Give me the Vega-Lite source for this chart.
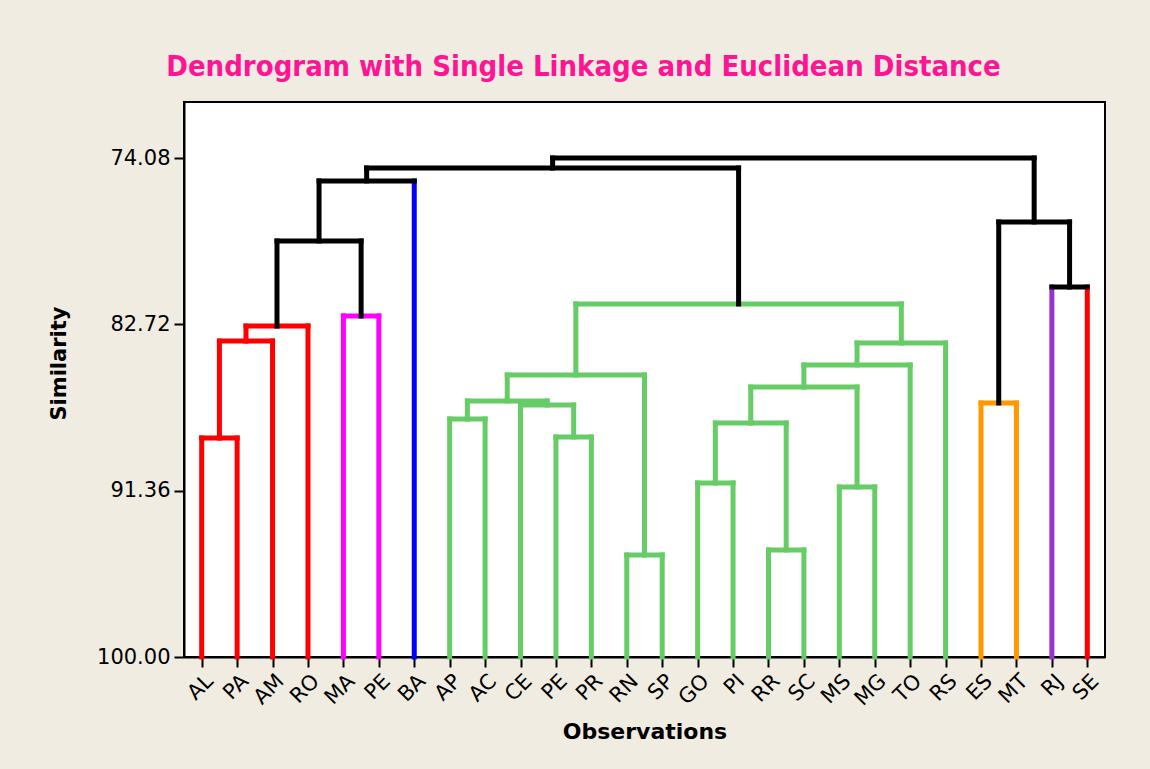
{
  "$schema": "https://vega.github.io/schema/vega-lite/v6.json",
  "width": 921,
  "height": 555,
  "autosize": {"type": "none"},
  "padding": {"left": 184, "top": 102, "right": 45, "bottom": 112},
  "background": "#F0ECE2",
  "view": {"fill": "white", "stroke": "black", "strokeWidth": 2},
  "title": {
    "text": "Dendrogram with Single Linkage and Euclidean Distance",
    "color": "#FF1493",
    "font": "DejaVu Sans Condensed",
    "fontWeight": "bold",
    "fontSize": 29,
    "anchor": "middle",
    "dx": -61,
    "offset": 20
  },
  "data": {
    "values": [
      {"x": 1, "x2": 1, "y": 100, "y2": 88.63, "c": "red"},
      {"x": 2, "x2": 2, "y": 100, "y2": 88.63, "c": "red"},
      {"x": 1, "x2": 2, "y": 88.63, "y2": 88.63, "c": "red"},
      {"x": 1.5, "x2": 1.5, "y": 88.63, "y2": 83.59, "c": "red"},
      {"x": 3, "x2": 3, "y": 100, "y2": 83.59, "c": "red"},
      {"x": 1.5, "x2": 3, "y": 83.59, "y2": 83.59, "c": "red"},
      {"x": 2.25, "x2": 2.25, "y": 83.59, "y2": 82.81, "c": "red"},
      {"x": 4, "x2": 4, "y": 100, "y2": 82.81, "c": "red"},
      {"x": 2.25, "x2": 4, "y": 82.81, "y2": 82.81, "c": "red"},
      {"x": 5, "x2": 5, "y": 100, "y2": 82.29, "c": "magenta"},
      {"x": 6, "x2": 6, "y": 100, "y2": 82.29, "c": "magenta"},
      {"x": 5, "x2": 6, "y": 82.29, "y2": 82.29, "c": "magenta"},
      {"x": 7, "x2": 7, "y": 100, "y2": 75.27, "c": "blue"},
      {"x": 8, "x2": 8, "y": 100, "y2": 87.64, "c": "green"},
      {"x": 9, "x2": 9, "y": 100, "y2": 87.64, "c": "green"},
      {"x": 8, "x2": 9, "y": 87.64, "y2": 87.64, "c": "green"},
      {"x": 11, "x2": 11, "y": 100, "y2": 88.57, "c": "green"},
      {"x": 12, "x2": 12, "y": 100, "y2": 88.57, "c": "green"},
      {"x": 11, "x2": 12, "y": 88.57, "y2": 88.57, "c": "green"},
      {"x": 10, "x2": 10, "y": 100, "y2": 86.91, "c": "green"},
      {"x": 11.5, "x2": 11.5, "y": 88.57, "y2": 86.91, "c": "green"},
      {"x": 10, "x2": 11.5, "y": 86.91, "y2": 86.91, "c": "green"},
      {"x": 8.5, "x2": 8.5, "y": 87.64, "y2": 86.70, "c": "green"},
      {"x": 10.75, "x2": 10.75, "y": 86.91, "y2": 86.70, "c": "green"},
      {"x": 8.5, "x2": 10.75, "y": 86.70, "y2": 86.70, "c": "green"},
      {"x": 13, "x2": 13, "y": 100, "y2": 94.70, "c": "green"},
      {"x": 14, "x2": 14, "y": 100, "y2": 94.70, "c": "green"},
      {"x": 13, "x2": 14, "y": 94.70, "y2": 94.70, "c": "green"},
      {"x": 9.625, "x2": 9.625, "y": 86.70, "y2": 85.35, "c": "green"},
      {"x": 13.5, "x2": 13.5, "y": 94.70, "y2": 85.35, "c": "green"},
      {"x": 9.625, "x2": 13.5, "y": 85.35, "y2": 85.35, "c": "green"},
      {"x": 15, "x2": 15, "y": 100, "y2": 90.96, "c": "green"},
      {"x": 16, "x2": 16, "y": 100, "y2": 90.96, "c": "green"},
      {"x": 15, "x2": 16, "y": 90.96, "y2": 90.96, "c": "green"},
      {"x": 17, "x2": 17, "y": 100, "y2": 94.44, "c": "green"},
      {"x": 18, "x2": 18, "y": 100, "y2": 94.44, "c": "green"},
      {"x": 17, "x2": 18, "y": 94.44, "y2": 94.44, "c": "green"},
      {"x": 15.5, "x2": 15.5, "y": 90.96, "y2": 87.85, "c": "green"},
      {"x": 17.5, "x2": 17.5, "y": 94.44, "y2": 87.85, "c": "green"},
      {"x": 15.5, "x2": 17.5, "y": 87.85, "y2": 87.85, "c": "green"},
      {"x": 19, "x2": 19, "y": 100, "y2": 91.17, "c": "green"},
      {"x": 20, "x2": 20, "y": 100, "y2": 91.17, "c": "green"},
      {"x": 19, "x2": 20, "y": 91.17, "y2": 91.17, "c": "green"},
      {"x": 16.5, "x2": 16.5, "y": 87.85, "y2": 85.98, "c": "green"},
      {"x": 19.5, "x2": 19.5, "y": 91.17, "y2": 85.98, "c": "green"},
      {"x": 16.5, "x2": 19.5, "y": 85.98, "y2": 85.98, "c": "green"},
      {"x": 18, "x2": 18, "y": 85.98, "y2": 84.83, "c": "green"},
      {"x": 21, "x2": 21, "y": 100, "y2": 84.83, "c": "green"},
      {"x": 18, "x2": 21, "y": 84.83, "y2": 84.83, "c": "green"},
      {"x": 19.5, "x2": 19.5, "y": 84.83, "y2": 83.69, "c": "green"},
      {"x": 22, "x2": 22, "y": 100, "y2": 83.69, "c": "green"},
      {"x": 19.5, "x2": 22, "y": 83.69, "y2": 83.69, "c": "green"},
      {"x": 11.5625, "x2": 11.5625, "y": 85.35, "y2": 81.66, "c": "green"},
      {"x": 20.75, "x2": 20.75, "y": 83.69, "y2": 81.66, "c": "green"},
      {"x": 11.5625, "x2": 20.75, "y": 81.66, "y2": 81.66, "c": "green"},
      {"x": 23, "x2": 23, "y": 100, "y2": 86.81, "c": "orange"},
      {"x": 24, "x2": 24, "y": 100, "y2": 86.81, "c": "orange"},
      {"x": 23, "x2": 24, "y": 86.81, "y2": 86.81, "c": "orange"},
      {"x": 25, "x2": 25, "y": 100, "y2": 80.78, "c": "purple"},
      {"x": 26, "x2": 26, "y": 100, "y2": 80.78, "c": "red"},
      {"x": 3.125, "x2": 3.125, "y": 82.81, "y2": 78.39, "c": "black"},
      {"x": 5.5, "x2": 5.5, "y": 82.29, "y2": 78.39, "c": "black"},
      {"x": 3.125, "x2": 5.5, "y": 78.39, "y2": 78.39, "c": "black"},
      {"x": 4.3125, "x2": 4.3125, "y": 78.39, "y2": 75.27, "c": "black"},
      {"x": 4.3125, "x2": 7, "y": 75.27, "y2": 75.27, "c": "black"},
      {"x": 5.65625, "x2": 5.65625, "y": 75.27, "y2": 74.60, "c": "black"},
      {"x": 16.15625, "x2": 16.15625, "y": 81.66, "y2": 74.60, "c": "black"},
      {"x": 5.65625, "x2": 16.15625, "y": 74.60, "y2": 74.60, "c": "black"},
      {"x": 10.90625, "x2": 10.90625, "y": 74.60, "y2": 74.08, "c": "black"},
      {"x": 23.5, "x2": 23.5, "y": 86.81, "y2": 77.40, "c": "black"},
      {"x": 25, "x2": 26, "y": 80.78, "y2": 80.78, "c": "black"},
      {"x": 25.5, "x2": 25.5, "y": 80.78, "y2": 77.40, "c": "black"},
      {"x": 23.5, "x2": 25.5, "y": 77.40, "y2": 77.40, "c": "black"},
      {"x": 24.5, "x2": 24.5, "y": 77.40, "y2": 74.08, "c": "black"},
      {"x": 10.90625, "x2": 24.5, "y": 74.08, "y2": 74.08, "c": "black"}
    ]
  },
  "mark": {"type": "rule", "strokeWidth": 5, "strokeCap": "square"},
  "encoding": {
    "x": {
      "field": "x",
      "type": "quantitative",
      "scale": {"domain": [0.5, 26.5], "nice": false, "zero": false},
      "axis": {
        "title": "Observations",
        "values": [1,2,3,4,5,6,7,8,9,10,11,12,13,14,15,16,17,18,19,20,21,22,23,24,25,26],
        "labelExpr": "['AL','PA','AM','RO','MA','PE','BA','AP','AC','CE','PE','PR','RN','SP','GO','PI','RR','SC','MS','MG','TO','RS','ES','MT','RJ','SE'][datum.value - 1]",
        "labelAngle": -45,
        "labelOverlap": false,
        "labelFont": "DejaVu Sans",
        "labelFontSize": 21,
        "labelColor": "black",
        "labelPadding": 3,
        "tickSize": 10,
        "tickWidth": 2,
        "tickColor": "black",
        "domainColor": "black",
        "domainWidth": 2,
        "grid": false,
        "titleFont": "DejaVu Sans",
        "titleFontSize": 22,
        "titleFontWeight": "bold",
        "titleColor": "black",
        "titlePadding": 12
      }
    },
    "x2": {"field": "x2"},
    "y": {
      "field": "y",
      "type": "quantitative",
      "scale": {"domain": [71.17, 100], "reverse": true, "nice": false, "zero": false},
      "axis": {
        "title": "Similarity",
        "values": [74.08, 82.72, 91.36, 100],
        "format": ".2f",
        "labelFont": "DejaVu Sans",
        "labelFontSize": 21,
        "labelColor": "black",
        "labelPadding": 4,
        "tickSize": 10,
        "tickWidth": 2,
        "tickColor": "black",
        "domainColor": "black",
        "domainWidth": 2,
        "grid": false,
        "titleFont": "DejaVu Sans",
        "titleFontSize": 21,
        "titleFontWeight": "bold",
        "titleColor": "black",
        "titlePadding": 27,
        "titleY": 261
      }
    },
    "y2": {"field": "y2"},
    "color": {
      "field": "c",
      "type": "nominal",
      "scale": {
        "domain": ["red", "magenta", "blue", "green", "orange", "purple", "black"],
        "range": ["#FF0000", "#FF00FF", "#0000FF", "#66CC66", "#FF9900", "#9933CC", "#000000"]
      },
      "legend": null
    }
  }
}
